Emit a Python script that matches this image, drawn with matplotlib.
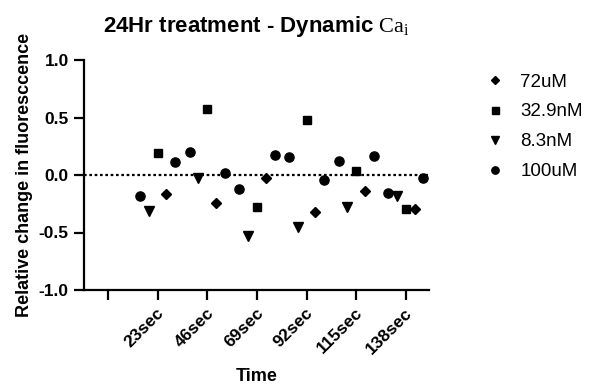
import matplotlib

matplotlib.use("Agg")
import matplotlib.pyplot as plt
from matplotlib.transforms import ScaledTranslation

plt.rcParams["font.family"] = ["Liberation Sans", "DejaVu Sans"]
plt.rcParams["mathtext.fontset"] = "custom"
plt.rcParams["mathtext.rm"] = "Liberation Serif"
plt.rcParams["mathtext.it"] = "Liberation Serif"

# time points (seconds) and tick labels
times = [23, 46, 69, 92, 115, 138]
tick_times = [0, 23, 46, 69, 92, 115, 138]
tick_labels = ["", "23sec", "46sec", "69sec", "92sec", "115sec", "138sec"]

# relative change in fluorescence per series
vals_72uM = [-0.165, -0.243, -0.03, -0.325, -0.139, -0.295]
vals_32_9nM = [0.19, 0.574, -0.275, 0.478, 0.035, -0.295]
vals_8_3nM = [-0.31, -0.03, -0.53, -0.45, -0.275, -0.18]
vals_100uM_a = [-0.18, 0.197, -0.12, 0.154, 0.125, -0.154]
vals_100uM_b = [0.116, 0.02, 0.17, -0.043, 0.168, -0.023]

slot = 4.07  # horizontal dodge between series, in seconds

# (values, label, marker, markersize, dodge slot)
series = [
    (vals_72uM, "72uM", "D", 4.6, 1),
    (vals_32_9nM, "32.9nM", "s", 6.3, 0),
    (vals_8_3nM, "8.3nM", "v", 7.0, -1),
    (vals_100uM_a, "100uM", "o", 6.6, -2),
    (vals_100uM_b, None, "o", 6.6, 2),
]

fig = plt.figure(figsize=(5.94, 3.87), dpi=100)
ax = fig.add_axes([84 / 594, 1 - 290 / 387, (429 - 84) / 594, (290 - 60) / 387])

for vals, label, marker, ms, pos in series:
    xs = [t + pos * slot for t in times]
    ax.plot(xs, vals, linestyle="none", marker=marker, markersize=ms,
            color="black", label=label)

ax.axhline(0, color="black", linestyle=(0, (1.2, 1.2)), linewidth=1.6, zorder=0)

ax.set_xlim(-11.1, 148.7)
ax.set_ylim(-1.0, 1.0)
ax.set_yticks([-1.0, -0.5, 0.0, 0.5, 1.0])
ax.set_yticklabels(["-1.0", "-0.5", "0.0", "0.5", "1.0"])
ax.set_xticks(tick_times)
ax.set_xticklabels(tick_labels, rotation=45, ha="right", va="center",
                   rotation_mode="anchor")

for side in ("top", "right"):
    ax.spines[side].set_visible(False)
for side in ("left", "bottom"):
    ax.spines[side].set_linewidth(1.6)
ax.tick_params(width=1.6, length=7, labelsize=12.5, pad=4)
ax.tick_params(axis="x", pad=8)
for lbl in ax.get_xticklabels() + ax.get_yticklabels():
    lbl.set_fontweight("bold")
# nudge rotated labels so their end sits just right of the tick
shift = ScaledTranslation(3 / 72, 0, fig.dpi_scale_trans)
for lbl in ax.get_xticklabels():
    lbl.set_transform(lbl.get_transform() + shift)

ax.set_xlabel("Time", fontsize=13, fontweight="bold", labelpad=8)
ax.set_ylabel("Relative change in fluoresccence", fontsize=13, fontweight="bold")
ax.yaxis.set_label_coords(-0.148, 0.5)
ax.set_title(r"24Hr treatment - Dynamic $\mathrm{Ca_i}$", fontsize=16, fontweight="bold", pad=20)

fig.legend(loc="upper left", bbox_to_anchor=(478 / 594, 1 - 66 / 387), frameon=False,
           fontsize=13.5, handlelength=1.0, handletextpad=0.85, labelspacing=0.68,
           markerscale=0.8, borderaxespad=0)

fig.savefig("out.png", dpi=100)
